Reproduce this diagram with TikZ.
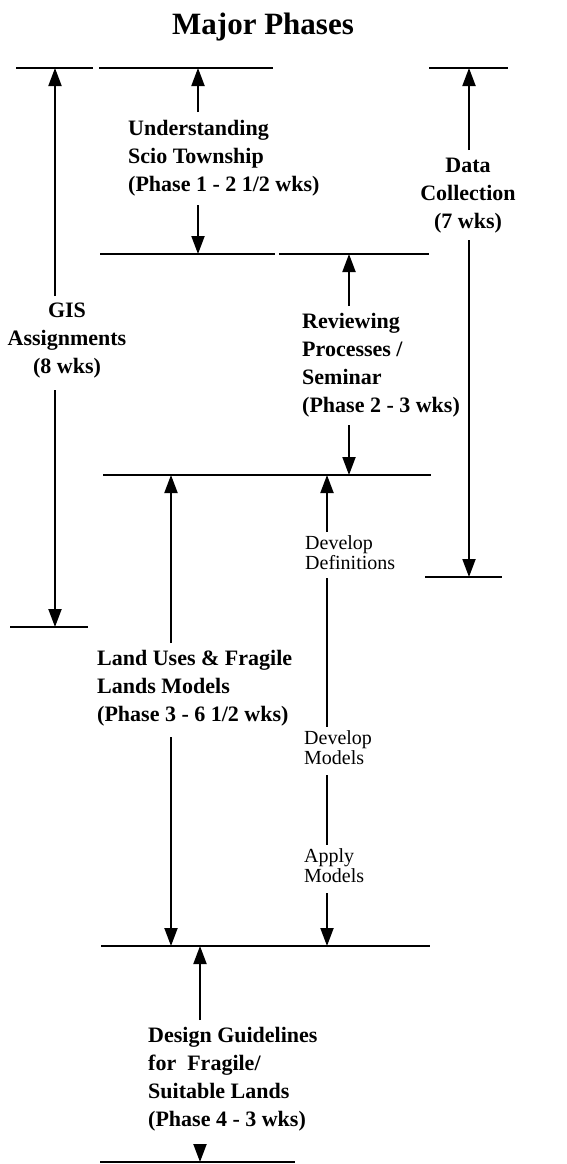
\documentclass[tikz,border=0pt]{standalone}
\usepackage{fontspec}
\setmainfont{Liberation Serif}
\usetikzlibrary{arrows.meta}
\begin{document}
\begin{tikzpicture}[x=1pt,y=-1pt,
  hline/.style={line width=2.5pt},
  arr/.style={line width=2pt,-{Triangle[width=13pt,length=18pt]}},
  plainline/.style={line width=2pt},
  big/.style={font=\bfseries\fontsize{22}{28}\selectfont, inner sep=0pt, align=left, anchor=north west},
  bigc/.style={font=\bfseries\fontsize{22}{28}\selectfont, inner sep=0pt, align=center, anchor=north},
  small/.style={font=\fontsize{20}{20}\selectfont, inner sep=0pt, align=left, anchor=north west}]
\useasboundingbox (0,0) rectangle (567,1164);

\node[font=\bfseries\fontsize{31}{36}\selectfont, anchor=base, inner sep=0pt] (title) at (263,35) {Major Phases};

% horizontal phase lines
\coordinate (L1a) at (16,68);   \coordinate (L1b) at (93,68);
\coordinate (L2a) at (99,68);   \coordinate (L2b) at (273,68);
\coordinate (L3a) at (429,68);  \coordinate (L3b) at (508,68);
\coordinate (L4a) at (100,254); \coordinate (L4b) at (275,254);
\coordinate (L5a) at (279,254); \coordinate (L5b) at (429,254);
\coordinate (L6a) at (103,475); \coordinate (L6b) at (431,475);
\coordinate (L7a) at (425,577); \coordinate (L7b) at (502,577);
\coordinate (L8a) at (10,627);  \coordinate (L8b) at (88,627);
\coordinate (L9a) at (101,946); \coordinate (L9b) at (430,946);
\coordinate (L10a) at (100,1162); \coordinate (L10b) at (295,1162);
\foreach \i in {1,...,10} {\draw[hline] (L\i a) -- (L\i b);}

% labels
\node[bigc] (gis) at (67,303) {GIS\\Assignments\\(8 wks)};
\node[big] (und) at (128,120) {Understanding\\Scio Township\\(Phase 1 - 2 1/2 wks)};
\node[bigc] (data) at (468,158) {Data\\Collection\\(7 wks)};
\node[big] (rev) at (302,313) {Reviewing\\Processes /\\Seminar\\(Phase 2 - 3 wks)};
\node[small] (ddef) at (305,535) {Develop\\Definitions};
\node[big] (land) at (97,650) {Land Uses \& Fragile\\Lands Models\\(Phase 3 - 6 1/2 wks)};
\node[small] (dmod) at (304,730) {Develop\\Models};
\node[small] (amod) at (304,848) {Apply\\Models};
\node[big] (des) at (148,1027) {Design Guidelines\\for\ \ Fragile/\\Suitable Lands\\(Phase 4 - 3 wks)};

% arrow endpoints
\coordinate (g1) at (55,296);  \coordinate (g1e) at (55,68);
\coordinate (g2) at (55,390);  \coordinate (g2e) at (55,627);
\coordinate (u1) at (198,112); \coordinate (u1e) at (198,68);
\coordinate (u2) at (198,205); \coordinate (u2e) at (198,254);
\coordinate (d1) at (469,150); \coordinate (d1e) at (469,68);
\coordinate (d2) at (469,240); \coordinate (d2e) at (469,577);
\coordinate (r1) at (349,306); \coordinate (r1e) at (349,254);
\coordinate (r2) at (349,425); \coordinate (r2e) at (349,475);
\coordinate (l1) at (171,643); \coordinate (l1e) at (171,475);
\coordinate (l2) at (171,737); \coordinate (l2e) at (171,946);
\coordinate (v1) at (327,532); \coordinate (v1e) at (327,475);
\coordinate (v2) at (327,578); \coordinate (v2e) at (327,727);
\coordinate (v3) at (327,775); \coordinate (v3e) at (327,845);
\coordinate (v4) at (327,893); \coordinate (v4e) at (327,946);
\coordinate (s1) at (200,1020); \coordinate (s1e) at (200,946);
\coordinate (s2) at (200,1144); \coordinate (s2e) at (200,1162);

\draw[arr] (g1) -- (g1e);
\draw[arr] (g2) -- (g2e);
\draw[arr] (u1) -- (u1e);
\draw[arr] (u2) -- (u2e);
\draw[arr] (d1) -- (d1e);
\draw[arr] (d2) -- (d2e);
\draw[arr] (r1) -- (r1e);
\draw[arr] (r2) -- (r2e);
\draw[arr] (l1) -- (l1e);
\draw[arr] (l2) -- (l2e);
\draw[arr] (v1) -- (v1e);
\draw[plainline] (v2) -- (v2e);
\draw[plainline] (v3) -- (v3e);
\draw[arr] (v4) -- (v4e);
\draw[arr] (s1) -- (s1e);
\draw[arr] (s2) -- (s2e);
\end{tikzpicture}
\end{document}
